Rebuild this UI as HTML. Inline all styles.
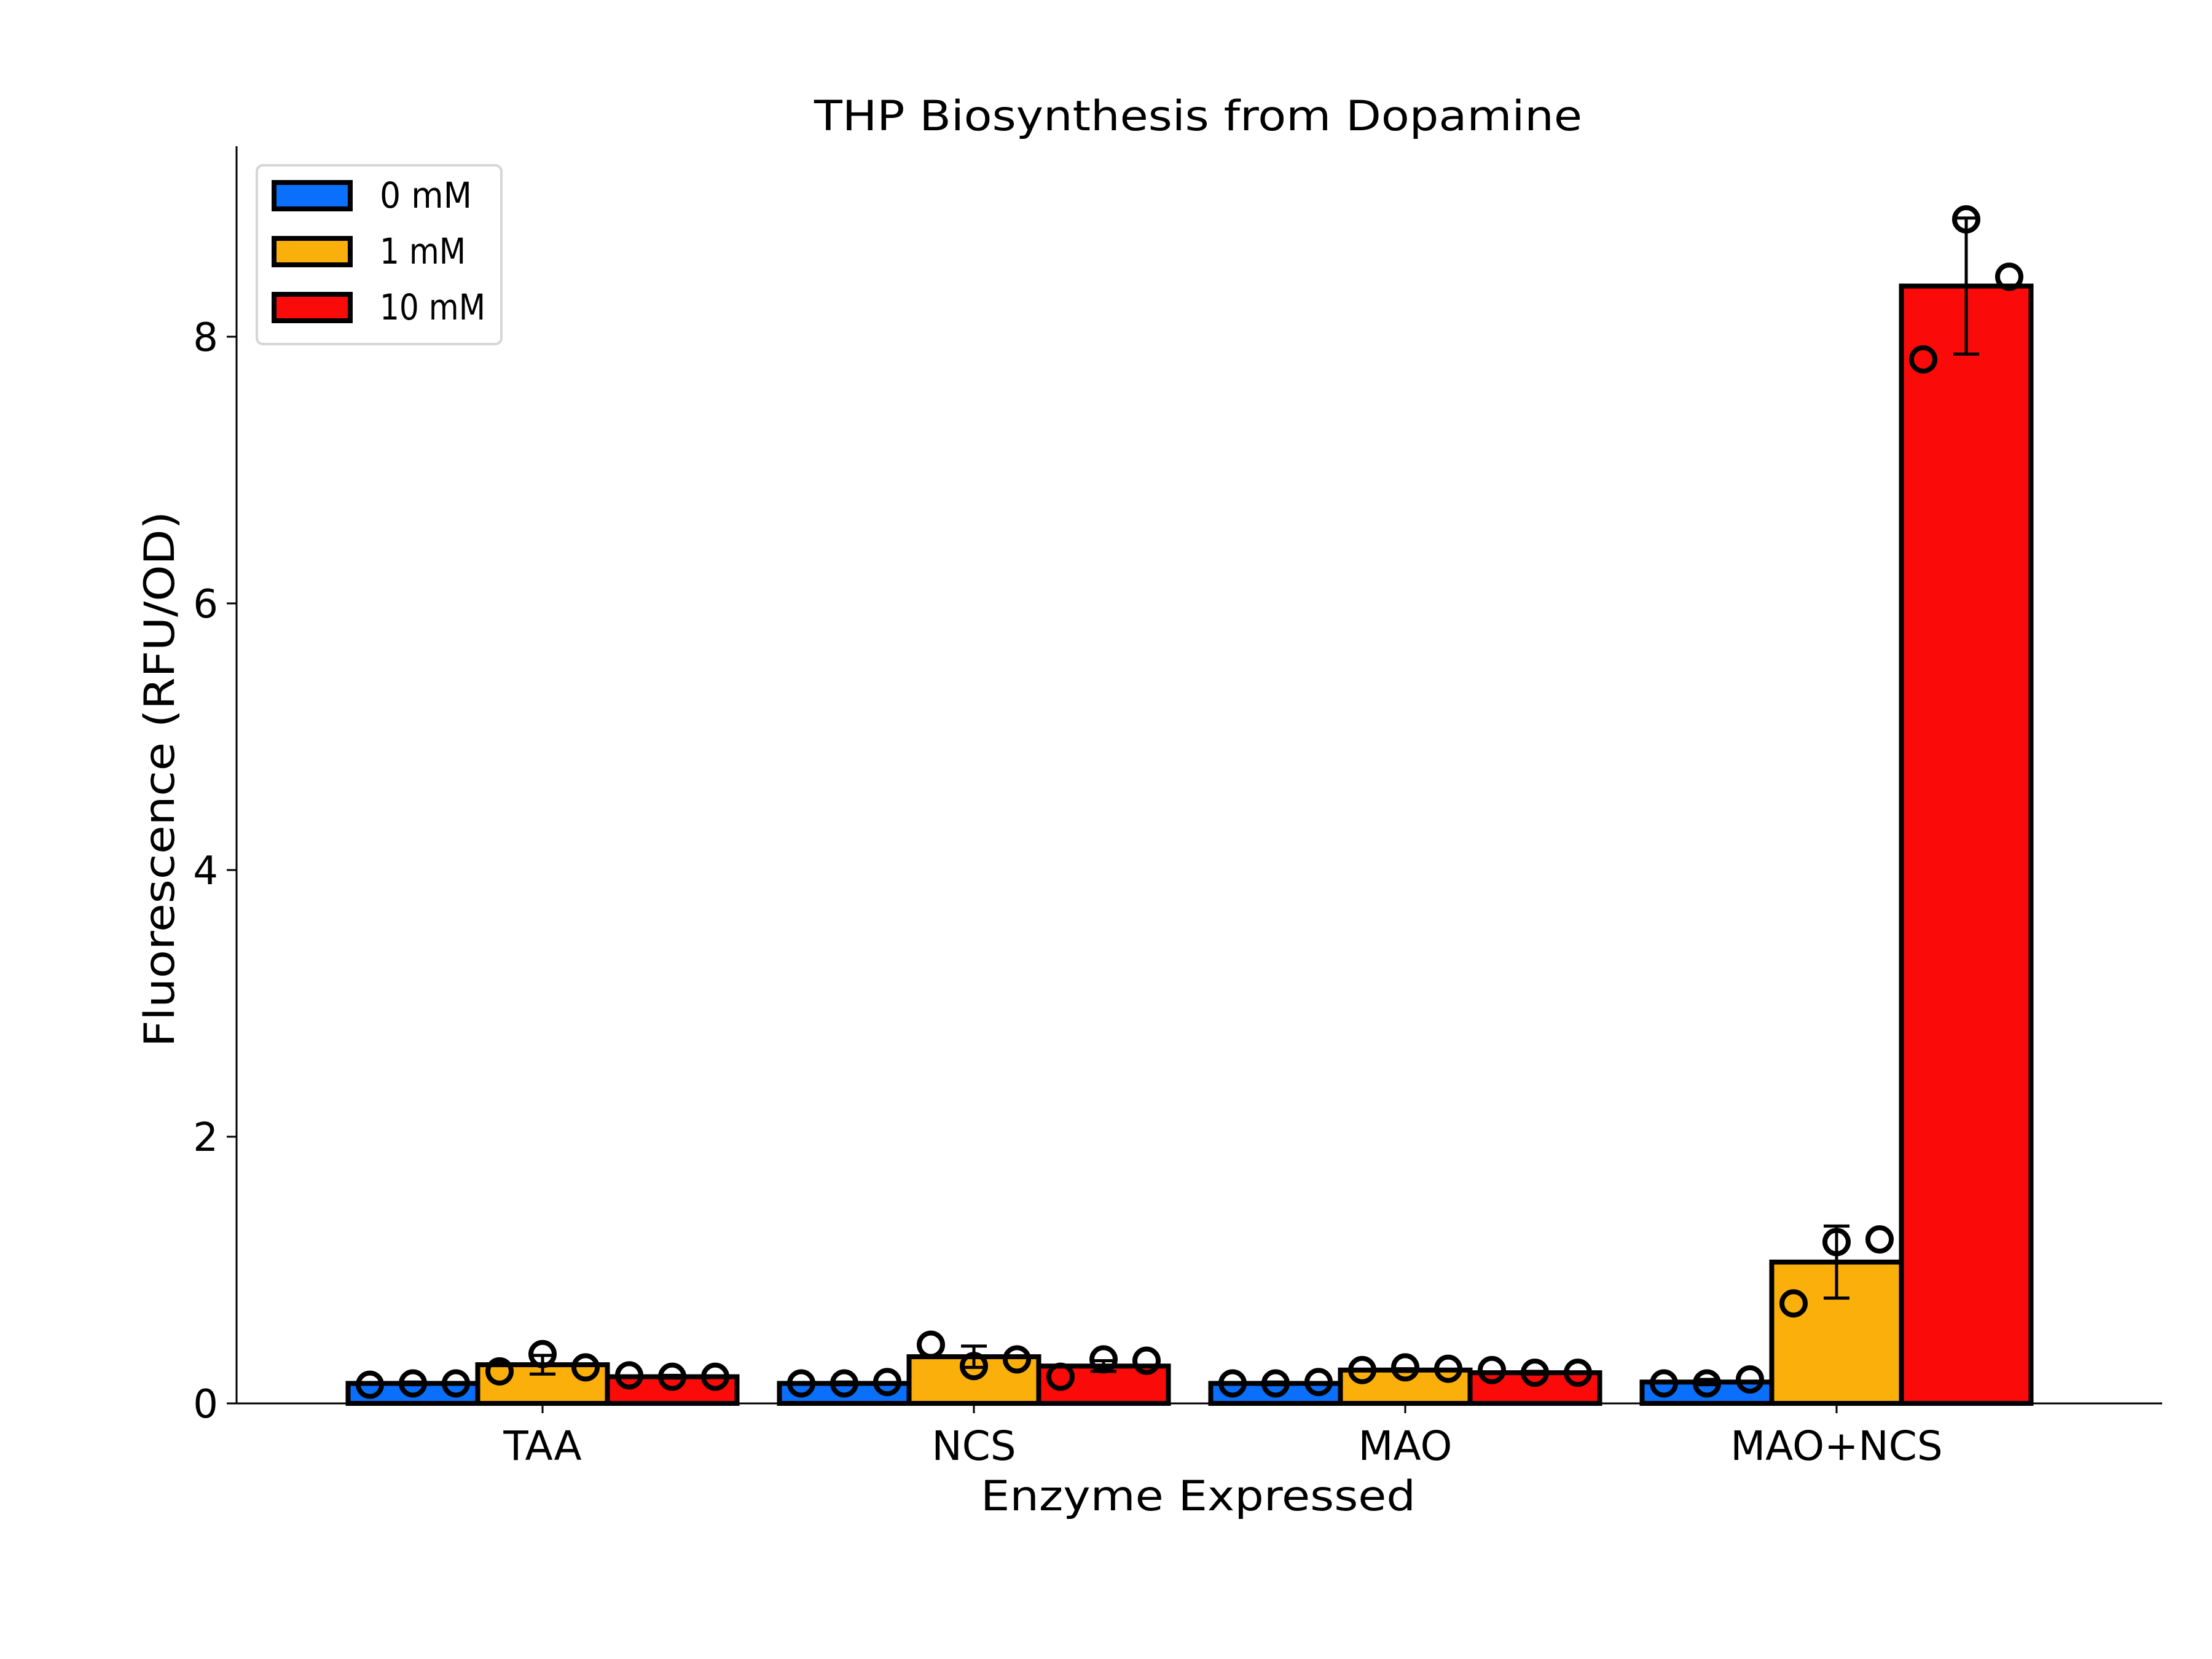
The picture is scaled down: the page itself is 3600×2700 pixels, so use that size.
<!DOCTYPE html>
<html><head><meta charset="utf-8"><style>html,body{margin:0;padding:0;background:#fff}svg{display:block}</style></head>
<body>
<svg id="chart" width="3600" height="2700" viewBox="0 0 3600 2700" xmlns="http://www.w3.org/2000/svg" font-family="'DejaVu Sans','Liberation Sans',sans-serif">
<rect width="3600" height="2700" fill="#fff"/>
<text x="1950" y="212" font-size="68" text-anchor="middle" textLength="1250" lengthAdjust="spacingAndGlyphs">THP Biosynthesis from Dopamine</text>
<g id="plot"></g>
<text x="1950" y="2458" font-size="68" text-anchor="middle" textLength="708" lengthAdjust="spacingAndGlyphs">Enzyme Expressed</text>
<text transform="translate(283,1268) rotate(-90)" font-size="68" text-anchor="middle" textLength="872" lengthAdjust="spacingAndGlyphs">Fluorescence (RFU/OD)</text>
</svg>
<script>
const categories = ["TAA","NCS","MAO","MAO+NCS"];
const seriesNames = ["0 mM","1 mM","10 mM"];
const seriesColors = ["#0a6ffb","#fbaf0b","#fb0a0a"];
const means0 = [0.15,0.15,0.15,0.16];
const means1 = [0.29,0.35,0.25,1.06];
const means10 = [0.20,0.28,0.23,8.38];
const err0 = [0.01,0.01,0.01,0.02];
const err1 = [0.07,0.08,0.01,0.27];
const err10 = [0.01,0.04,0.01,0.51];
const pts0 = [[0.14,0.15,0.15],[0.15,0.15,0.16],[0.15,0.15,0.16],[0.15,0.15,0.18]];
const pts1 = [[0.24,0.37,0.27],[0.44,0.28,0.33],[0.25,0.27,0.26],[0.75,1.21,1.23]];
const pts10 = [[0.21,0.20,0.20],[0.20,0.33,0.32],[0.25,0.23,0.23],[7.83,8.88,8.45]];
const yTicks = [0,2,4,6,8];

const means=[means0,means1,means10], errs=[err0,err1,err10], pts=[pts0,pts1,pts10];
const NS="http://www.w3.org/2000/svg";
const plot=document.getElementById('plot');
const X0=385, X1=3519, Y0=2284, PXU=217, CAT0=883, CATW=702, BARW=211;
const y=v=>Y0-v*PXU;
const xc=(c,s)=>CAT0+c*CATW+(s-1)*BARW;
function mk(tag,attrs,parent){const e=document.createElementNS(NS,tag);for(const k in attrs)e.setAttribute(k,attrs[k]);(parent||plot).appendChild(e);return e;}

for(let s=0;s<3;s++){for(let c=0;c<categories.length;c++){
  const cx=xc(c,s),v=means[s][c];
  const r=mk('rect',{x:cx-BARW/2,y:y(v),width:BARW,height:Y0-y(v),fill:seriesColors[s],stroke:'#000','stroke-width':8});
  
  
}}
for(let s=0;s<3;s++){for(let c=0;c<categories.length;c++){
  const cx=xc(c,s),v=means[s][c],e=errs[s][c];
  const g=mk('g',{stroke:'#000','stroke-width':5});
  
  
  mk('line',{x1:cx,x2:cx,y1:y(v-e),y2:y(v+e)},g);
  mk('line',{x1:cx-21,x2:cx+21,y1:y(v-e),y2:y(v-e)},g);
  mk('line',{x1:cx-21,x2:cx+21,y1:y(v+e),y2:y(v+e)},g);
  pts[s][c].forEach((p,i)=>{
    const m=mk('circle',{cx:cx+(i-1)*70,cy:y(p),r:19,fill:'none',stroke:'#000','stroke-width':8});
    
    
  });
}}
const ax=mk('g',{stroke:'#000','stroke-width':3});


mk('line',{x1:X0,x2:X0,y1:238,y2:Y0+1.5},ax);
mk('line',{x1:X0,x2:X1,y1:Y0,y2:Y0},ax);
yTicks.forEach(t=>{
  mk('line',{x1:X0-16,x2:X0,y1:y(t),y2:y(t)},ax);
  const tx=mk('text',{x:X0-30,y:y(t)+23,'font-size':64,'text-anchor':'end',stroke:'none'});
  tx.textContent=t;
  
  
});
categories.forEach((c,i)=>{
  const cx=xc(i,1);
  mk('line',{x1:cx,x2:cx,y1:Y0,y2:Y0+16},ax);
  const tx=mk('text',{x:cx,y:Y0+92,'font-size':66,'text-anchor':'middle',stroke:'none'});
  tx.textContent=c;
  
  
});
const lg=mk('g',{});


mk('rect',{x:418,y:269,width:398,height:291,rx:10,fill:'#fff',stroke:'#d6d6d6','stroke-width':4},lg);
seriesNames.forEach((n,i)=>{
  const cy=318+i*91;
  const e=mk('g',{},lg);
  
  
  mk('rect',{x:446,y:cy-21,width:124,height:43,fill:seriesColors[i],stroke:'#000','stroke-width':8},e);
  const t=mk('text',{x:618,y:cy+20,'font-size':58,textLength:[150,140,172][i],lengthAdjust:'spacingAndGlyphs'},e);
  t.textContent=n;
});
</script>
</body></html>
